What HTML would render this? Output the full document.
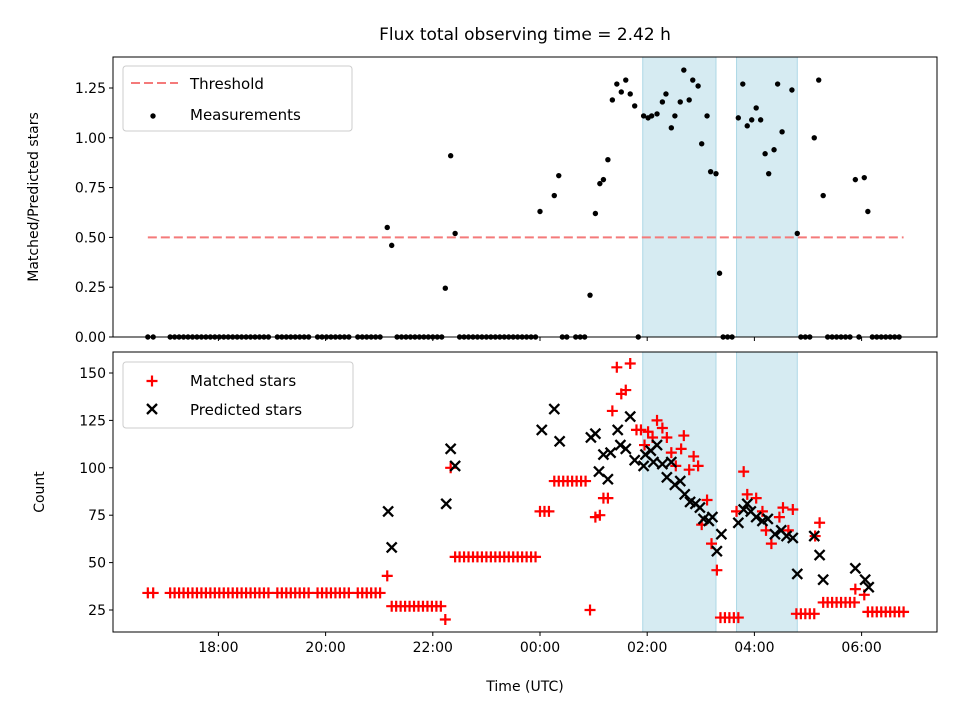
<!DOCTYPE html>
<html><head><meta charset="utf-8"><style>
body{margin:0;background:#fff;}
svg{display:block;font-family:"DejaVu Sans","Liberation Sans",sans-serif;}
</style></head><body>
<svg id="chart" width="960" height="720" viewBox="0 0 960 720"></svg>
<script>
// times: minutes since 16:00 UTC
const ratioTimes=[309,314,374,380,385,480,496,501,536,542,547,551,556,561,566,571,576,581,586,596,601,605,611,617,621,627,631,637,641,647,651,657,661,667,671,677,681,702,707,712,717,722,727,732,736,742,746,751,762,768,787,792,797,833,843,847];
const ratioValues=[0.55,0.46,0.245,0.91,0.52,0.63,0.71,0.81,0.21,0.62,0.77,0.79,0.89,1.19,1.27,1.23,1.29,1.22,1.16,1.11,1.10,1.11,1.12,1.18,1.22,1.05,1.11,1.18,1.34,1.19,1.29,1.26,0.97,1.11,0.83,0.82,0.32,1.10,1.27,1.06,1.09,1.15,1.09,0.92,0.82,0.94,1.27,1.03,1.24,0.52,1.00,1.29,0.71,0.79,0.80,0.63];
const zeroTimes=[41,47,66,71,76,81,86,91,96,101,106,111,116,121,126,131,136,141,146,151,156,161,166,171,176,186,191,196,201,206,211,216,221,231,236,241,246,251,256,261,266,276,281,286,291,296,301,320,325,330,335,340,345,350,355,360,365,370,390,395,400,405,410,415,420,425,430,435,440,445,450,455,460,465,470,475,505,510,520,525,530,590,685,690,695,772,777,782,802,807,812,817,822,827,837,852,857,862,867,872,877,882];
const zeroValues=zeroTimes.map(()=>0);
const matchedTimes=[41,47,66,71,76,81,86,91,96,101,106,111,116,121,126,131,136,141,146,151,156,161,166,171,176,186,191,196,201,206,211,216,221,231,236,241,246,251,256,261,266,276,281,286,291,296,301,309,314,319,324,329,334,339,344,349,354,359,364,369,374,380,385,390,395,400,405,410,415,420,425,430,435,440,445,450,455,460,465,470,475,480,485,490,496,501,506,511,516,521,526,531,536,542,547,551,556,561,566,571,576,581,588,593,597,601,606,611,617,622,627,632,638,641,647,652,657,661,667,672,678,682,687,692,697,702,700,708,712,722,729,733,739,748,752,758,763,767,772,777,782,787,788,793,797,802,807,812,817,822,827,832,833,843,847,852,857,862,867,872,877,882,887];
const matchedValues=[34,34,34,34,34,34,34,34,34,34,34,34,34,34,34,34,34,34,34,34,34,34,34,34,34,34,34,34,34,34,34,34,34,34,34,34,34,34,34,34,34,34,34,34,34,34,34,43,27,27,27,27,27,27,27,27,27,27,27,27,20,100,53,53,53,53,53,53,53,53,53,53,53,53,53,53,53,53,53,53,53,77,77,77,93,93,93,93,93,93,93,93,25,74,75,84,84,130,153,139,141,155,120,120,112,119,116,125,121,116,108,101,110,117,99,106,101,70,83,60,46,21,21,21,21,21,77,98,86,84,77,67,60,74,79,67,78,23,23,23,23,23,64,71,29,29,29,29,29,29,29,29,36,33,24,24,24,24,24,24,24,24,24];
const predTimes=[310,314,375,380,385,482,496,502,537,542,546,551,556,559,567,570,576,581,586,596,598,604,607,611,617,622,627,631,637,642,648,654,659,663,669,673,678,683,702,708,712,716,722,729,735,743,750,756,763,768,787,793,797,833,844,848];
const predValues=[77,58,81,110,101,120,131,114,116,118,98,107,94,108,120,112,110,127,104,101,107,109,103,112,102,95,103,91,93,86,82,81,79,73,72,74,56,65,71,78,81,77,74,72,73,65,67,64,63,44,64,54,41,47,41,37];
const spanStarts=[595,700];
const spanEnds=[677,768];
const threshold=0.5;
const xTickLabels=["18:00","20:00","22:00","00:00","02:00","04:00","06:00"];
const xTickTimes=[120,240,360,480,600,720,840];
const topTicks=[0,0.25,0.5,0.75,1.0,1.25];
const botTicks=[25,50,75,100,125,150];

const NS="http://www.w3.org/2000/svg";
const svg=document.getElementById('chart');
const L=113,R=937,T1=57,B1=337,T2=352,B2=632;
const xs=m=>540+(m-480)*0.89333;
const y1=v=>337-v*199.2;
const y2=v=>610-(v-25)*1.896;
function el(tag,attrs,parent){const e=document.createElementNS(NS,tag);for(const k in attrs)e.setAttribute(k,attrs[k]);(parent||svg).appendChild(e);return e;}
function txt(s,attrs,parent){const e=el('text',attrs,parent);e.textContent=s;return e;}

[[T1,B1],[T2,B2]].forEach(([t,b],pi)=>{
  spanStarts.forEach((s,i)=>{
    const r=el('rect',{x:xs(s),y:t,width:xs(spanEnds[i])-xs(s),height:b-t,fill:'#add8e6','fill-opacity':0.5,stroke:'#add8e6','stroke-width':1});
    
    
  });
});

const th=el('line',{x1:xs(41),x2:xs(887),y1:y1(threshold),y2:y1(threshold),stroke:'#f47a7a','stroke-width':2,'stroke-dasharray':'9,4'});



const gm=el('g',{});


ratioTimes.forEach((t,i)=>{const c=el('circle',{cx:xs(t),cy:y1(ratioValues[i]),r:2.7,fill:'#000'},gm);

});
zeroTimes.forEach((t,i)=>{const c=el('circle',{cx:xs(t),cy:y1(zeroValues[i]),r:2.7,fill:'#000'},gm);

});

function plus(x,y,g){el('path',{d:`M${x-5.5},${y}H${x+5.5}M${x},${y-5.5}V${y+5.5}`,stroke:'#f00','stroke-width':2.2,fill:'none'},g);}
function cross(x,y,g){el('path',{d:`M${x-5},${y-5}L${x+5},${y+5}M${x-5},${y+5}L${x+5},${y-5}`,stroke:'#000','stroke-width':2.3,fill:'none'},g);}
const gmat=el('g',{});


matchedTimes.forEach((t,i)=>plus(xs(t),y2(matchedValues[i]),gmat));
const gpr=el('g',{});


predTimes.forEach((t,i)=>cross(xs(t),y2(predValues[i]),gpr));

[[T1,B1,'top'],[T2,B2,'bottom']].forEach(([t,b,n])=>{
  const f=el('rect',{x:L,y:t,width:R-L,height:b-t,fill:'none',stroke:'#000','stroke-width':1});
  
  
  xTickTimes.forEach(m=>el('line',{x1:xs(m),x2:xs(m),y1:b,y2:b+4,stroke:'#000','stroke-width':1}));
});
xTickTimes.forEach((m,i)=>{const e=txt(xTickLabels[i],{x:xs(m),y:B2+20,'font-size':14,'text-anchor':'middle'});

});
topTicks.forEach(v=>{el('line',{x1:L-4,x2:L,y1:y1(v),y2:y1(v),stroke:'#000'});
const e=txt(v.toFixed(2),{x:L-7,y:y1(v)+5,'font-size':14,'text-anchor':'end'});

});
botTicks.forEach(v=>{el('line',{x1:L-4,x2:L,y1:y2(v),y2:y2(v),stroke:'#000'});
const e=txt(String(v),{x:L-7,y:y2(v)+5,'font-size':14,'text-anchor':'end'});

});
</script>
<script>
(function(){
const svg=document.getElementById('chart');
svg.insertAdjacentHTML('beforeend',`
<text x="525" y="40" font-size="17" text-anchor="middle">Flux total observing time = 2.42 h</text>
<text transform="translate(38,197) rotate(-90)" font-size="14" text-anchor="middle">Matched/Predicted stars</text>
<text transform="translate(44,492) rotate(-90)" font-size="14" text-anchor="middle">Count</text>
<text x="525" y="691" font-size="14" text-anchor="middle">Time (UTC)</text>
<g>
<rect x="123" y="66" width="229" height="65" rx="3" fill="#fff" fill-opacity="0.8" stroke="#ccc"/>
<line x1="131" x2="178" y1="83" y2="83" stroke="#f47a7a" stroke-width="2" stroke-dasharray="9,4"/>
<text x="190" y="89" font-size="15">Threshold</text>
<circle cx="153" cy="116" r="2.7" fill="#000"/>
<text x="190" y="120" font-size="15">Measurements</text>
</g>
<g>
<rect x="123" y="362" width="230" height="66" rx="3" fill="#fff" fill-opacity="0.8" stroke="#ccc"/>
<path d="M146.5,381H157.5M152,375.5V386.5" stroke="#f00" stroke-width="2.2"/>
<text x="190" y="386" font-size="15">Matched stars</text>
<path d="M147,404L157,414M147,414L157,404" stroke="#000" stroke-width="2.3"/>
<text x="190" y="415" font-size="15">Predicted stars</text>
</g>`);
})();
</script>
</body></html>
